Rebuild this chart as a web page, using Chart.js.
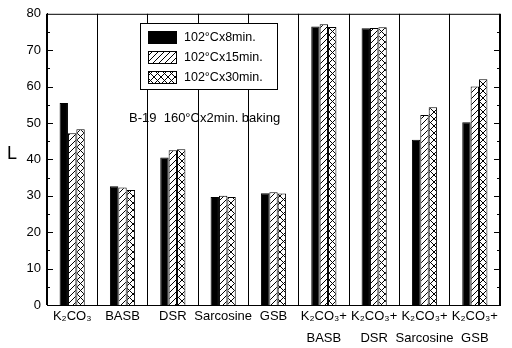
<!DOCTYPE html>
<html>
<head>
<meta charset="utf-8">
<script src="https://cdn.jsdelivr.net/npm/chart.js@4/dist/chart.umd.min.js"></script>
<style>
  html, body { margin: 0; padding: 0; background: #fff; }
  #wrap { width: 512px; height: 348px; }
</style>
</head>
<body>
<div id="wrap"><canvas id="chart" width="512" height="348"></canvas></div>
<script>
const categories = [
  'K₂CO₃', 'BASB', 'DSR', 'Sarcosine', 'GSB',
  ['K₂CO₃+', 'BASB'], ['K₂CO₃+', 'DSR'], ['K₂CO₃+', 'Sarcosine'], ['K₂CO₃+', 'GSB']
];
const seriesNames = ['102°Cx8min.', '102°Cx15min.', '102°Cx30min.'];
const min8 = [55.5, 32.6, 40.5, 29.7, 30.7, 76.5, 76.0, 45.4, 50.2];
const min15 = [47.2, 32.3, 42.5, 30.0, 31.0, 77.1, 76.1, 52.2, 60.0];
const min30 = [48.3, 31.6, 42.8, 29.7, 30.6, 76.4, 76.3, 54.3, 62.0];
const yMin = 0, yMax = 80, yStep = 10;
const yTitle = 'L';
const note = 'B-19  160°Cx2min. baking';

const FONT = '"Liberation Sans", Arial, sans-serif';

// hatch fills
function hatch(kind) {
  const c = document.createElement('canvas');
  const s = kind == 'slash' ? 6 : 7;
  c.width = s; c.height = s;
  const g = c.getContext('2d');
  g.fillStyle = '#fff';
  g.fillRect(0, 0, s, s);
  g.strokeStyle = '#000';
  g.lineWidth = 1;
  g.beginPath();
  g.moveTo(-1, s + 1); g.lineTo(s + 1, -1);
  if (kind == 'cross') {
    g.moveTo(-1, -1); g.lineTo(s + 1, s + 1);
  }
  g.stroke();
  return g.createPattern(c, 'repeat');
}
const fills = ['#000', hatch('slash'), hatch('cross')];

const decor = {
  id: 'decor',
  beforeDraw(chart) {
    const ctx = chart.ctx;
    ctx.save();
    ctx.fillStyle = '#fff';
    ctx.fillRect(0, 0, chart.width, chart.height);
    ctx.restore();
  },
  afterDraw(chart) {
    const ctx = chart.ctx, a = chart.chartArea, y = chart.scales.y;
    ctx.save();
    ctx.strokeStyle = '#000';
    ctx.lineWidth = 1;
    ctx.beginPath();
    ctx.moveTo(a.left, a.top + 0.5); ctx.lineTo(a.right, a.top + 0.5);
    ctx.moveTo(a.right - 0.5, a.top); ctx.lineTo(a.right - 0.5, a.bottom);
    // inward ticks, both sides
    for (let v = yMin + 5; v < yMax; v += 5) {
      const p = Math.round(y.getPixelForValue(v)) + 0.5;
      const len = v % 10 == 0 ? 6 : 3;
      ctx.moveTo(a.left, p); ctx.lineTo(a.left + len, p);
      ctx.moveTo(a.right, p); ctx.lineTo(a.right - len, p);
    }
    ctx.stroke();

    ctx.fillStyle = '#000';
    ctx.textBaseline = 'middle';
    ctx.font = '18px ' + FONT;
    ctx.fillText(yTitle, 7, 154);
    ctx.font = '13px ' + FONT;
    ctx.fillText(note, 129, 118);

    // legend box
    const lx = 140, ly = 23, lw = 137, lh = 66;
    ctx.fillStyle = '#fff';
    ctx.fillRect(lx, ly, lw, lh);
    ctx.strokeRect(lx + 0.5, ly + 0.5, lw, lh);
    ctx.font = '12.5px ' + FONT;
    chart.data.datasets.forEach((ds, i) => {
      const cy = 37 + i * 20;
      ctx.fillStyle = ds.backgroundColor;
      ctx.fillRect(148, cy - 6, 28, 12);
      ctx.strokeRect(148.5, cy - 5.5, 28, 12);
      ctx.fillStyle = '#000';
      ctx.fillText(ds.label, 184, cy + 1);
    });
    ctx.restore();
  }
};

new Chart('chart', {
  type: 'bar',
  data: {
    labels: categories,
    datasets: [min8, min15, min30].map((d, i) => ({
      label: seriesNames[i],
      data: d,
      backgroundColor: fills[i],
      borderColor: '#000',
      borderWidth: 1,
      categoryPercentage: 0.5,
      barPercentage: 1.0
    }))
  },
  options: {
    responsive: false,
    animation: false,
    layout: { padding: { left: 0, right: 12, top: 11, bottom: 0 } },
    plugins: { legend: { display: false }, tooltip: { enabled: false } },
    scales: {
      x: {
        offset: true,
        grid: { offset: true, color: '#000', lineWidth: 1, drawTicks: false },
        border: { display: true, color: '#000', width: 1 },
        ticks: { color: '#000', padding: 1, font: { family: FONT, size: 13, lineHeight: 1.65 }, maxRotation: 0, autoSkip: false },
        afterFit(s) { s.height = 43; }
      },
      y: {
        min: yMin, max: yMax,
        grid: { display: false, drawTicks: false },
        border: { display: true, color: '#000', width: 1 },
        ticks: { stepSize: yStep, color: '#000', padding: 6, font: { family: FONT, size: 13 } },
        afterFit(s) { s.width = 47; }
      }
    }
  },
  plugins: [decor]
});
</script>
</body>
</html>
